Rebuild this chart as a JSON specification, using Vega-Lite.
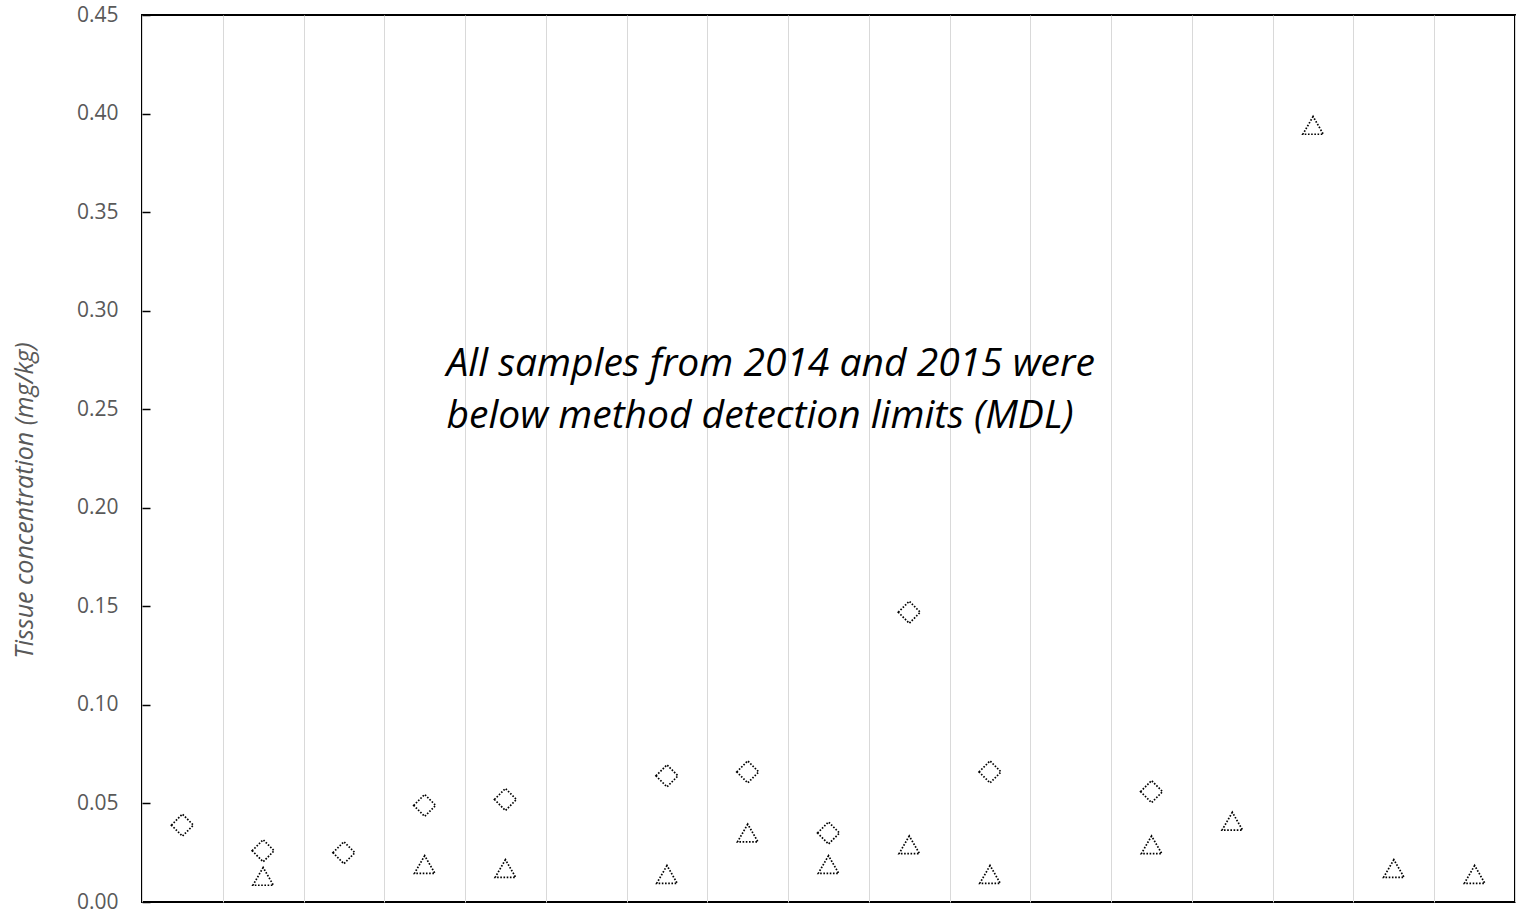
{
  "$schema": "https://vega.github.io/schema/vega-lite/v6.json",
  "width": 1373,
  "height": 887,
  "autosize": {"type": "none"},
  "padding": {"left": 142, "top": 15, "right": 2, "bottom": 15},
  "background": "white",
  "config": {
    "view": {"stroke": "black", "strokeWidth": 2},
    "font": "Open Sans"
  },
  "datasets": {
    "points": [
      {"site": 1, "series": "diamond", "value": 0.039},
      {"site": 2, "series": "diamond", "value": 0.026},
      {"site": 3, "series": "diamond", "value": 0.025},
      {"site": 4, "series": "diamond", "value": 0.049},
      {"site": 5, "series": "diamond", "value": 0.052},
      {"site": 7, "series": "diamond", "value": 0.064},
      {"site": 8, "series": "diamond", "value": 0.066},
      {"site": 9, "series": "diamond", "value": 0.035},
      {"site": 10, "series": "diamond", "value": 0.147},
      {"site": 11, "series": "diamond", "value": 0.066},
      {"site": 13, "series": "diamond", "value": 0.056},
      {"site": 2, "series": "triangle", "value": 0.013},
      {"site": 4, "series": "triangle", "value": 0.019},
      {"site": 5, "series": "triangle", "value": 0.017},
      {"site": 7, "series": "triangle", "value": 0.014},
      {"site": 8, "series": "triangle", "value": 0.035},
      {"site": 9, "series": "triangle", "value": 0.019},
      {"site": 10, "series": "triangle", "value": 0.029},
      {"site": 11, "series": "triangle", "value": 0.014},
      {"site": 13, "series": "triangle", "value": 0.029},
      {"site": 14, "series": "triangle", "value": 0.041},
      {"site": 15, "series": "triangle", "value": 0.394},
      {"site": 16, "series": "triangle", "value": 0.017},
      {"site": 17, "series": "triangle", "value": 0.014}
    ],
    "note": [
      {"x": 4.27, "y": 0.267, "text": ["All samples from 2014 and 2015 were", "below method detection limits (MDL)"]}
    ]
  },
  "layer": [
    {
      "data": {"name": "points"},
      "mark": {"type": "point", "filled": false, "stroke": "black", "strokeWidth": 1.7, "strokeDash": [1.6, 1.6], "opacity": 1},
      "encoding": {
        "x": {
          "field": "site", "type": "quantitative",
          "scale": {"domain": [0.5, 17.5], "nice": false, "zero": false},
          "axis": {
            "values": [0.5, 1.5, 2.5, 3.5, 4.5, 5.5, 6.5, 7.5, 8.5, 9.5, 10.5, 11.5, 12.5, 13.5, 14.5, 15.5, 16.5, 17.5],
            "grid": true, "gridColor": "#d9d9d9", "gridWidth": 1,
            "labels": false, "ticks": false, "domain": false, "title": null
          }
        },
        "y": {
          "field": "value", "type": "quantitative",
          "scale": {"domain": [0, 0.45], "nice": false},
          "axis": {
            "values": [0, 0.05, 0.1, 0.15, 0.2, 0.25, 0.3, 0.35, 0.4, 0.45],
            "format": ".2f", "grid": false, "domain": false, "offset": -8,
            "ticks": true, "tickSize": 8, "tickColor": "black", "tickWidth": 1.5,
            "labelFont": "Open Sans", "labelFontSize": 21, "labelColor": "#595959", "labelPadding": 24,
            "title": "Tissue concentration (mg/kg)",
            "titleFont": "Open Sans", "titleFontStyle": "italic", "titleFontWeight": "normal",
            "titleFontSize": 25, "titleColor": "#595959",
            "titleAngle": 270, "titleAlign": "center", "titleBaseline": "middle",
            "titleX": -126, "titleY": 485
          }
        },
        "shape": {
          "field": "series", "type": "nominal",
          "scale": {"domain": ["diamond", "triangle"], "range": ["diamond", "triangle-up"]},
          "legend": null
        },
        "size": {
          "field": "series", "type": "nominal",
          "scale": {"domain": ["diamond", "triangle"], "range": [484, 420]},
          "legend": null
        }
      }
    },
    {
      "data": {"name": "note"},
      "mark": {"type": "text", "align": "left", "baseline": "alphabetic", "font": "Open Sans", "fontStyle": "italic", "fontSize": 39, "lineHeight": 52, "color": "black"},
      "encoding": {
        "x": {"field": "x", "type": "quantitative"},
        "y": {"field": "y", "type": "quantitative"},
        "text": {"field": "text"}
      }
    }
  ]
}
